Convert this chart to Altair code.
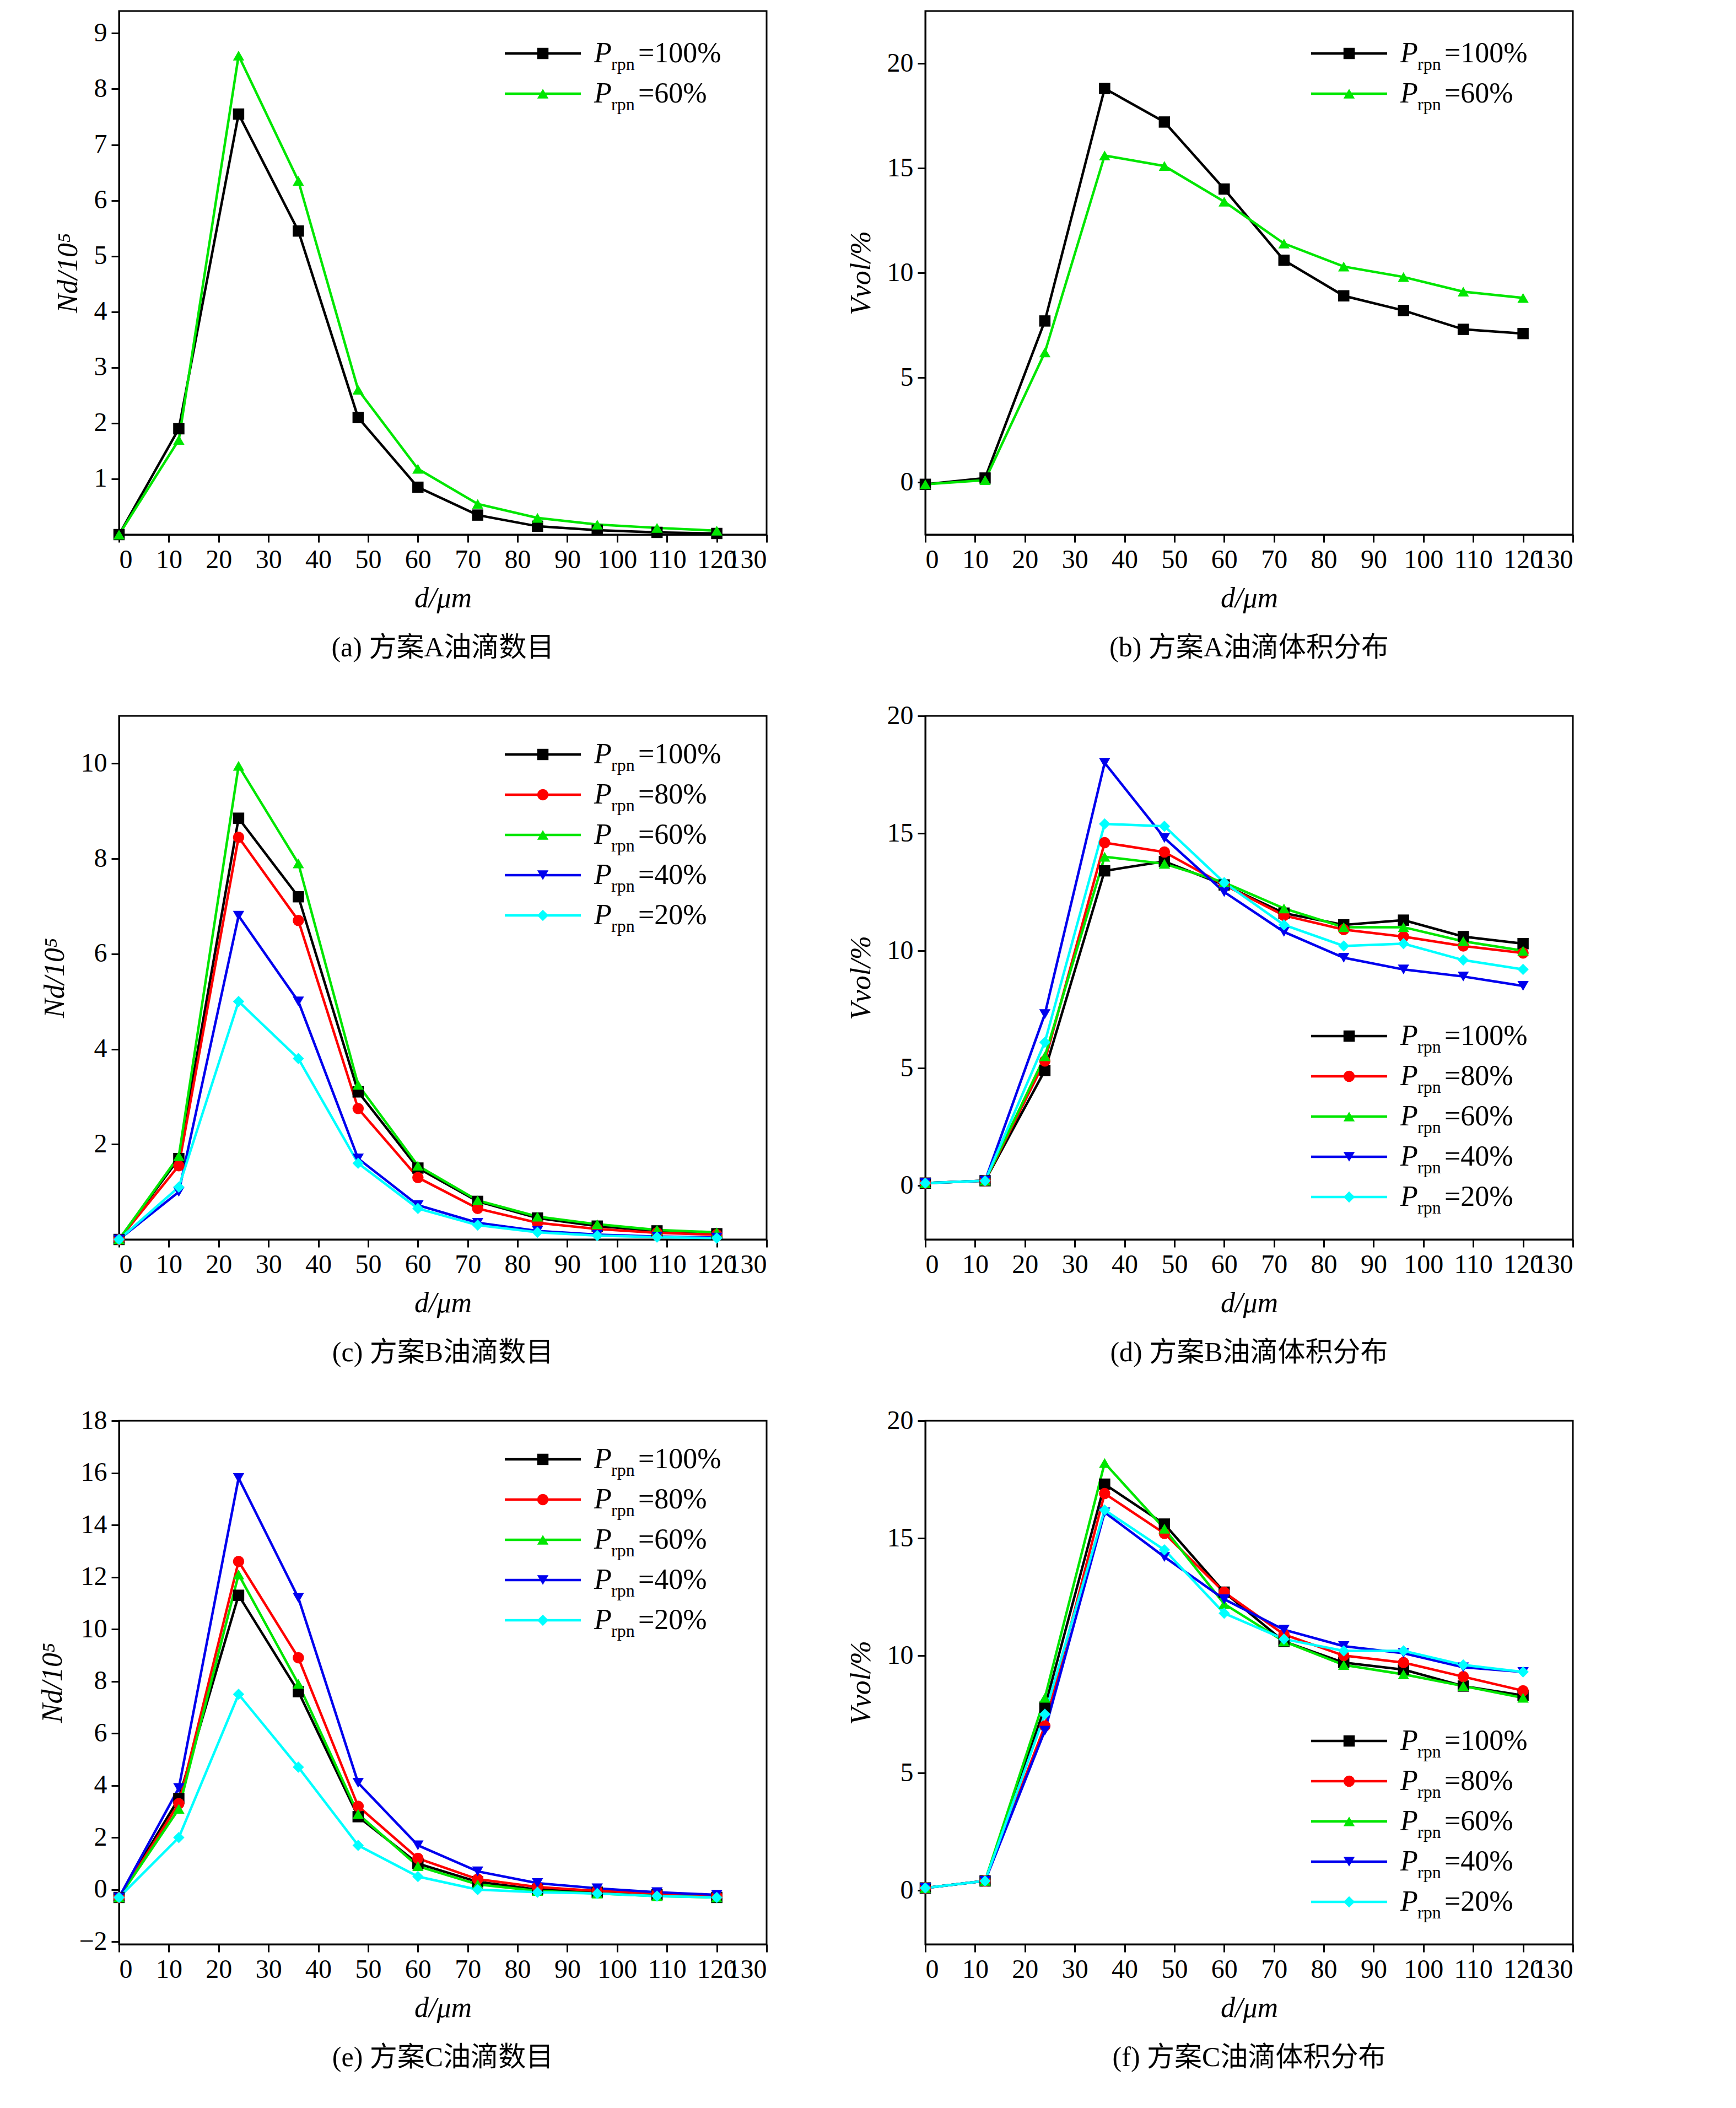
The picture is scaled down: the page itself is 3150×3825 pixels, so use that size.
import altair as alt
import pandas as pd

x_vals = [0, 12, 24, 36, 48, 60, 72, 84, 96, 108, 120]
series_names = ["100%", "80%", "60%", "40%", "20%"]
colors = {"100%": "#000000", "80%": "#ff0000", "60%": "#00e600", "40%": "#0000ee", "20%": "#00ffff"}
shapes = {"100%": "square", "80%": "circle", "60%": "triangle-up", "40%": "triangle-down", "20%": "diamond"}

a_data = {
    "100%": [0, 1.9, 7.55, 5.45, 2.1, 0.85, 0.35, 0.15, 0.08, 0.04, 0.02],
    "60%": [0, 1.7, 8.6, 6.35, 2.6, 1.18, 0.55, 0.3, 0.18, 0.12, 0.07],
}
b_data = {
    "100%": [-0.1, 0.2, 7.7, 18.8, 17.2, 14.0, 10.6, 8.9, 8.2, 7.3, 7.1],
    "60%": [-0.1, 0.1, 6.2, 15.6, 15.1, 13.4, 11.4, 10.3, 9.8, 9.1, 8.8],
}
c_data = {
    "100%": [0, 1.7, 8.85, 7.2, 3.1, 1.5, 0.8, 0.45, 0.28, 0.18, 0.12],
    "80%": [0, 1.55, 8.45, 6.7, 2.75, 1.3, 0.65, 0.35, 0.22, 0.14, 0.1],
    "60%": [0, 1.75, 9.95, 7.9, 3.25, 1.55, 0.82, 0.48, 0.32, 0.2, 0.15],
    "40%": [0, 1.0, 6.8, 5.0, 1.7, 0.72, 0.35, 0.18, 0.1, 0.06, 0.04],
    "20%": [0, 1.1, 5.0, 3.8, 1.6, 0.65, 0.3, 0.15, 0.08, 0.05, 0.03],
}
d_data = {
    "100%": [0.1, 0.2, 4.9, 13.4, 13.8, 12.8, 11.6, 11.1, 11.3, 10.6, 10.3],
    "80%": [0.1, 0.2, 5.3, 14.6, 14.2, 12.8, 11.5, 10.9, 10.6, 10.2, 9.9],
    "60%": [0.1, 0.2, 5.5, 14.0, 13.7, 12.9, 11.8, 11.0, 11.0, 10.4, 10.0],
    "40%": [0.1, 0.2, 7.3, 18.0, 14.8, 12.5, 10.8, 9.7, 9.2, 8.9, 8.5],
    "20%": [0.1, 0.2, 6.1, 15.4, 15.3, 12.9, 11.1, 10.2, 10.3, 9.6, 9.2],
}
e_data = {
    "100%": [-0.3, 3.5, 11.3, 7.6, 2.8, 1.0, 0.3, 0.0, -0.1, -0.2, -0.3],
    "80%": [-0.3, 3.3, 12.6, 8.9, 3.2, 1.2, 0.4, 0.1, -0.05, -0.15, -0.25],
    "60%": [-0.3, 3.1, 12.1, 7.9, 2.9, 0.9, 0.2, -0.05, -0.15, -0.25, -0.3],
    "40%": [-0.3, 3.9, 15.8, 11.2, 4.1, 1.7, 0.7, 0.25, 0.05, -0.1, -0.2],
    "20%": [-0.3, 2.0, 7.5, 4.7, 1.7, 0.5, 0.0, -0.1, -0.15, -0.25, -0.3],
}
f_data = {
    "100%": [0.1, 0.4, 7.8, 17.3, 15.6, 12.7, 10.6, 9.7, 9.4, 8.7, 8.3],
    "80%": [0.1, 0.4, 7.0, 16.9, 15.2, 12.7, 10.9, 10.0, 9.7, 9.1, 8.5],
    "60%": [0.1, 0.4, 8.2, 18.2, 15.4, 12.2, 10.6, 9.6, 9.2, 8.7, 8.2],
    "40%": [0.1, 0.4, 6.8, 16.1, 14.2, 12.4, 11.1, 10.4, 10.1, 9.5, 9.3],
    "20%": [0.1, 0.4, 7.5, 16.2, 14.5, 11.8, 10.7, 10.2, 10.2, 9.6, 9.3],
}

W, H = 1175, 950
SERIF = "Liberation Serif"
CAPFONT = "Liberation Serif, 'Noto Sans CJK SC'"

cscale = alt.Scale(domain=series_names, range=[colors[n] for n in series_names])
sscale = alt.Scale(domain=series_names, range=[shapes[n] for n in series_names])


def panel(data, ydom, yticks, ytitle, caption, leg_top):
    names = [n for n in series_names if n in data]
    rows = [{"x": xv, "y": yv, "s": n} for n in names for xv, yv in zip(x_vals, data[n])]
    df = pd.DataFrame(rows)
    xenc = alt.X("x:Q", scale=alt.Scale(domain=[0, 130], nice=False),
                 axis=alt.Axis(values=list(range(0, 131, 10)), title="d/μm", grid=False,
                               labelOverlap=False))
    yenc = alt.Y("y:Q", scale=alt.Scale(domain=ydom, nice=False, zero=False),
                 axis=alt.Axis(values=yticks, title=ytitle, grid=False, labelOverlap=False))
    col = alt.Color("s:N", scale=cscale, legend=None)
    shp = alt.Shape("s:N", scale=sscale, legend=None)
    base = alt.Chart(df)
    line = base.mark_line(strokeWidth=4.5).encode(x=xenc, y=yenc, color=col, detail="s:N")
    pts = base.mark_point(filled=True, size=420, opacity=1).encode(x=xenc, y=yenc, color=col, shape=shp)
    lg = pd.DataFrame({"s": names, "ly": [leg_top + 73 * i for i in range(len(names))],
                       "x1": [700] * len(names), "x2": [838] * len(names), "xm": [769] * len(names),
                       "xp": [862] * len(names), "xr": [893] * len(names), "xe": [942] * len(names),
                       "lab": ["=" + n for n in names]})
    lb = alt.Chart(lg)
    ly = alt.Y("ly:Q", scale=None)
    lline = lb.mark_rule(strokeWidth=4.5).encode(
        x=alt.X("x1:Q", scale=None), x2="x2:Q", y=ly, color=col)
    lpt = lb.mark_point(filled=True, size=420, opacity=1).encode(
        x=alt.X("xm:Q", scale=None), y=ly, color=col, shape=shp)
    tP = lb.mark_text(font=SERIF, fontSize=52, fontStyle="italic", align="left", baseline="middle").encode(
        x=alt.X("xp:Q", scale=None), y=ly, text=alt.value("P"))
    tr = lb.mark_text(font=SERIF, fontSize=32, align="left", baseline="middle", dy=20).encode(
        x=alt.X("xr:Q", scale=None), y=ly, text=alt.value("rpn"))
    te = lb.mark_text(font=SERIF, fontSize=52, align="left", baseline="middle").encode(
        x=alt.X("xe:Q", scale=None), y=ly, text="lab:N")
    return alt.layer(line, pts, lline, lpt, tP, tr, te).properties(
        width=W, height=H,
        title=alt.TitleParams(caption, orient="bottom", font=CAPFONT, fontSize=50,
                              fontWeight="normal", offset=40))


pa = panel(a_data, [0, 9.4], list(range(1, 10)), "Nd/10⁵", "(a) 方案A油滴数目", 77)
pb = panel(b_data, [-2.5, 22.5], [0, 5, 10, 15, 20], "Vvol/%", "(b) 方案A油滴体积分布", 77)
pc = panel(c_data, [0, 11], [2, 4, 6, 8, 10], "Nd/10⁵", "(c) 方案B油滴数目", 70)
pd_ = panel(d_data, [-2.3, 20], [0, 5, 10, 15, 20], "Vvol/%", "(d) 方案B油滴体积分布", 581)
pe = panel(e_data, [-2.1, 18], list(range(-2, 19, 2)), "Nd/10⁵", "(e) 方案C油滴数目", 70)
pf = panel(f_data, [-2.3, 20], [0, 5, 10, 15, 20], "Vvol/%", "(f) 方案C油滴体积分布", 581)

chart = alt.vconcat(
    alt.hconcat(pa, pb, spacing=140),
    alt.hconcat(pc, pd_, spacing=140),
    alt.hconcat(pe, pf, spacing=140),
    spacing=70,
).configure_view(stroke="black", strokeWidth=3).configure_axis(
    labelFont=SERIF, titleFont=SERIF, labelFontSize=48, titleFontSize=52,
    titleFontWeight="normal", domainColor="black", domainWidth=3, tickColor="black",
    tickWidth=3, tickSize=14, labelColor="black", titleColor="black", labelPadding=8,
    titlePadding=20
).configure_axisY(titleFontStyle="italic").configure_axisX(titleFontStyle="italic"
).properties(background="white", padding={"left": 60, "top": 10, "right": 40, "bottom": 10})

chart.save("out.html", embed_options={"renderer": "svg", "actions": False})
